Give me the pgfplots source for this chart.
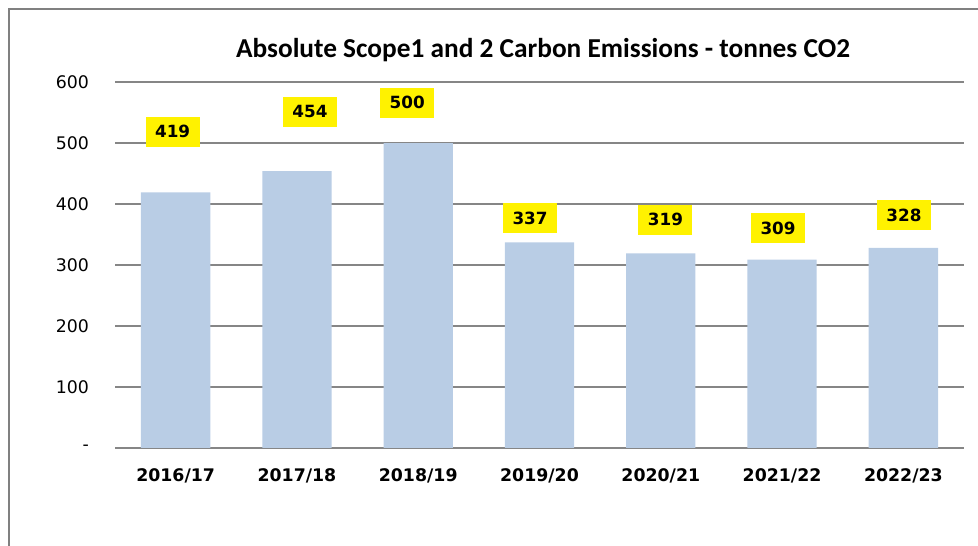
\documentclass[border=0pt]{standalone}
\usepackage{pgfplots}
\pgfplotsset{compat=1.18}
\usepackage{pgfplotstable}
\usepackage{fontspec}
\setmainfont{DejaVu Sans}
\newfontfamily\calibri{Carlito}
\definecolor{barblue}{RGB}{185,205,229}
\definecolor{gridgray}{RGB}{134,134,134}
\definecolor{framegray}{RGB}{128,128,128}
\pgfplotstableread{
x y dx dy
0 419 -2.25 45.4
1 454 9.75 44.5
2 500 -8.25 30.2
3 337 -7.1 18.2
4 319 3.5 25.4
5 309 -3 23.5
6 328 0.45 24.4
}\datatable
\begin{document}
\begin{tikzpicture}
\useasboundingbox (0,0) rectangle (733.5pt,409.5pt);
\draw[line width=1.5pt, framegray] (6.75pt,-2pt) -- (6.75pt,402.75pt) -- (736pt,402.75pt);
\node[anchor=base, font=\calibri\bfseries\fontsize{20.5}{24}\selectfont] at (407.25pt,366pt) {Absolute Scope1 and 2 Carbon Emissions - tonnes CO2};
\begin{axis}[
  at={(86.25pt,73.5pt)}, anchor=south west,
  scale only axis, width=636.75pt, height=274.5pt,
  xmin=-0.5, xmax=6.5, ymin=0, ymax=600,
  ybar, bar width=52pt,
  axis line style={draw=none},
  tick style={draw=none},
  ymajorgrids,
  major grid style={gridgray, line width=1.1pt},
  xtick={0,1,2,3,4,5,6},
  xticklabels={2016/17,2017/18,2018/19,2019/20,2020/21,2021/22,2022/23},
  ytick={0,100,200,300,400,500,600},
  yticklabels={{-\hspace{7.5pt}},100,200,300,400,500,600},
  xticklabel style={font=\bfseries\fontsize{13}{15}\selectfont, yshift=-8pt},
  yticklabel style={font=\fontsize{13}{15}\selectfont, xshift=-16pt},
  /pgf/number format/assume math mode=true,
  clip=false,
  point meta=explicit symbolic,
  nodes near coords={\pgfplotspointmeta},
  visualization depends on={\thisrow{dx} \as \dx},
  visualization depends on={\thisrow{dy} \as \dy},
  every node near coord/.append style={anchor=center, xshift=\dx pt, yshift=\dy pt,
     fill=yellow, minimum width=40.5pt, minimum height=22.5pt, inner sep=0pt,
     font=\bfseries\fontsize{12.6}{14}\selectfont, text=black},
]
\addplot[fill=barblue, draw=none] table[x=x, y=y, meta=y] {\datatable};
\end{axis}
\end{tikzpicture}
\end{document}
